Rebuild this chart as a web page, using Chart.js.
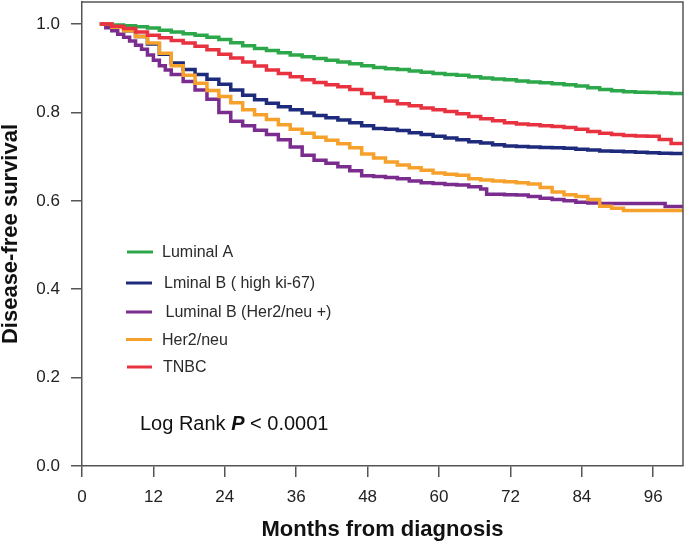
<!DOCTYPE html>
<html>
<head>
<meta charset="utf-8">
<script src="https://cdn.jsdelivr.net/npm/chart.js@4.4.1/dist/chart.umd.min.js"></script>
<style>
  html, body { margin: 0; padding: 0; background: #ffffff; }
  #c { display: block; }
</style>
</head>
<body>
<canvas id="c" width="685" height="543"></canvas>
<script>
// ---- data ----
const seriesLabels = ["Luminal A", "Lminal B ( high ki-67)", "Luminal B (Her2/neu +)", "Her2/neu", "TNBC"];
const seriesColors = ["#2ca84b", "#1e2b7c", "#7b2d8f", "#f6a12b", "#e8323f"];

const lumAMonths = [3,5,7,9,11,13,15,17,19,21,23,25,27,29,31,33,35,37,39,41,43,45,47,49,51,53,55,57,59,61,63,65,67,69,71,73,75,77,79,81,83,85,87,89,91,93,95,97,99,101];
const lumAValues = [1.0,0.998,0.996,0.994,0.991,0.986,0.982,0.978,0.975,0.970,0.965,0.958,0.951,0.945,0.940,0.935,0.930,0.926,0.922,0.918,0.914,0.910,0.906,0.902,0.899,0.897,0.894,0.891,0.888,0.886,0.884,0.881,0.878,0.876,0.874,0.871,0.869,0.867,0.865,0.863,0.860,0.856,0.852,0.849,0.847,0.846,0.845,0.844,0.843,0.843];

const lumBkiMonths = [3,5,7,9,11,13,15,17,19,21,23,25,27,29,31,33,35,37,39,41,43,45,47,49,51,53,55,57,59,61,63,65,67,69,71,73,75,77,79,81,83,85,87,89,91,93,95,97,99,101];
const lumBkiValues = [1.0,0.994,0.985,0.972,0.955,0.932,0.912,0.897,0.886,0.875,0.864,0.851,0.839,0.829,0.821,0.813,0.806,0.799,0.793,0.788,0.783,0.777,0.770,0.764,0.762,0.759,0.754,0.750,0.746,0.742,0.738,0.734,0.731,0.727,0.724,0.723,0.722,0.721,0.720,0.719,0.717,0.715,0.713,0.712,0.711,0.710,0.709,0.708,0.707,0.706];

const lumBherMonths = [3,4,5,6,7,8,9,10,11,12,13,14,15,17,19,21,23,25,27,29,31,33,35,37,39,41,43,45,47,49,51,53,55,57,59,61,63,65,67,68,71,73,75,77,79,81,83,85,87,97,98,101];
const lumBherValues = [1.0,0.992,0.985,0.977,0.970,0.962,0.952,0.943,0.930,0.918,0.906,0.896,0.886,0.870,0.851,0.830,0.800,0.780,0.770,0.760,0.750,0.738,0.722,0.703,0.692,0.685,0.677,0.668,0.657,0.655,0.653,0.650,0.645,0.641,0.639,0.637,0.636,0.632,0.627,0.615,0.614,0.613,0.610,0.606,0.603,0.600,0.597,0.595,0.594,0.594,0.587,0.587];

const her2Months = [3,5,7,9,11,13,15,17,19,21,23,25,27,29,31,33,35,37,39,41,43,45,47,49,51,53,55,57,59,61,63,65,67,69,71,73,75,77,79,81,83,85,87,89,91,101];
const her2Values = [1.0,0.993,0.985,0.972,0.957,0.934,0.906,0.884,0.866,0.850,0.836,0.822,0.806,0.795,0.784,0.772,0.762,0.753,0.744,0.737,0.729,0.720,0.706,0.697,0.688,0.681,0.675,0.669,0.663,0.660,0.658,0.650,0.647,0.645,0.643,0.641,0.638,0.630,0.620,0.614,0.610,0.603,0.588,0.583,0.578,0.578];

const tnbcMonths = [3,5,7,9,11,13,15,17,19,21,23,25,27,29,31,33,35,37,39,41,43,45,47,49,51,53,55,57,59,61,63,65,67,69,71,73,75,77,79,81,83,85,87,89,91,93,95,97,99,101];
const tnbcValues = [1.0,0.995,0.990,0.982,0.975,0.969,0.963,0.957,0.950,0.942,0.932,0.923,0.914,0.905,0.896,0.888,0.881,0.874,0.868,0.863,0.858,0.852,0.843,0.834,0.826,0.820,0.815,0.810,0.806,0.802,0.797,0.791,0.786,0.781,0.777,0.774,0.772,0.770,0.768,0.766,0.762,0.757,0.753,0.750,0.748,0.747,0.746,0.739,0.730,0.726];

const xTickValues = [0, 12, 24, 36, 48, 60, 72, 84, 96];
const yTickValues = [0.0, 0.2, 0.4, 0.6, 0.8, 1.0];

const xTitle = "Months from diagnosis";
const yTitle = "Disease-free survival";

// ---- build ----
const FONT = "'Liberation Sans', Arial, Helvetica, sans-serif";
const allMonths = [lumAMonths, lumBkiMonths, lumBherMonths, her2Months, tnbcMonths];
const allValues = [lumAValues, lumBkiValues, lumBherValues, her2Values, tnbcValues];
const drawOrder = [5, 4, 3, 2, 1];

const datasets = seriesLabels.map((lab, i) => ({
  label: lab,
  data: allMonths[i].map((m, j) => ({ x: m, y: allValues[i][j] })),
  borderColor: seriesColors[i],
  backgroundColor: seriesColors[i],
  borderWidth: 3.5,
  stepped: true,
  pointRadius: 0,
  fill: false,
  order: drawOrder[i]
}));

const framePlugin = {
  id: 'frame',
  afterDraw(chart) {
    const { ctx, chartArea: a } = chart;
    ctx.save();
    ctx.strokeStyle = '#555';
    ctx.lineWidth = 1.5;
    ctx.beginPath();
    ctx.moveTo(a.left, a.top);
    ctx.lineTo(a.right, a.top);
    ctx.lineTo(a.right, a.bottom);
    ctx.stroke();
    ctx.restore();
  }
};

const legendPlugin = {
  id: 'insideLegend',
  afterDraw(chart) {
    const ctx = chart.ctx;
    const rowY = [252, 283, 312, 339.5, 367];
    const lineX = [[127, 153], [126, 152], [126, 152], [126, 152], [127, 152]];
    const textX = [162, 164, 165.5, 162, 163];
    ctx.save();
    ctx.font = "16px " + FONT;
    ctx.textBaseline = 'middle';
    ctx.textAlign = 'left';
    chart.data.datasets.forEach((ds, i) => {
      ctx.strokeStyle = ds.borderColor;
      ctx.lineWidth = 3;
      ctx.beginPath();
      ctx.moveTo(lineX[i][0], rowY[i]);
      ctx.lineTo(lineX[i][1], rowY[i]);
      ctx.stroke();
      ctx.fillStyle = '#2a2a2a';
      ctx.fillText(ds.label, textX[i], rowY[i] + 1);
    });
    // Log rank annotation
    let x = 140;
    const y = 424;
    ctx.fillStyle = '#111';
    ctx.font = "20px " + FONT;
    const p1 = "Log Rank ";
    ctx.fillText(p1, x, y);
    x += ctx.measureText(p1).width;
    ctx.font = "italic bold 20px " + FONT;
    ctx.fillText("P", x, y);
    x += ctx.measureText("P").width;
    ctx.font = "20px " + FONT;
    ctx.fillText(" < 0.0001", x, y);
    ctx.restore();
  }
};

new Chart(document.getElementById('c'), {
  type: 'line',
  data: { datasets },
  options: {
    responsive: false,
    animation: false,
    layout: { padding: { top: 2, right: 2, left: 0, bottom: 0 } },
    plugins: { legend: { display: false }, tooltip: { enabled: false } },
    scales: {
      x: {
        type: 'linear',
        min: 0,
        max: 101,
        afterBuildTicks: s => { s.ticks = xTickValues.map(v => ({ value: v })); },
        afterFit: s => { s.height = 77; s.paddingLeft = 0; s.paddingRight = 0; s.paddingTop = 0; s.paddingBottom = 0; },
        grid: { drawOnChartArea: false, drawTicks: true, tickLength: 11, color: '#555', lineWidth: 1.5 },
        border: { color: '#555', width: 1.5 },
        ticks: { font: { family: FONT, size: 17 }, color: '#222', padding: 10, maxRotation: 0, autoSkip: false },
        title: { display: true, text: xTitle, color: '#111', font: { family: FONT, size: 22, weight: 'bold' }, padding: 0 }
      },
      y: {
        type: 'linear',
        min: 0,
        max: 1.05,
        afterBuildTicks: s => { s.ticks = yTickValues.map(v => ({ value: v })); },
        afterFit: s => { s.width = 82; s.paddingTop = 0; s.paddingBottom = 0; s.paddingLeft = 0; s.paddingRight = 0; },
        grid: { drawOnChartArea: false, drawTicks: true, tickLength: 11, color: '#555', lineWidth: 1.5 },
        border: { color: '#555', width: 1.5 },
        ticks: { font: { family: FONT, size: 17 }, color: '#222', padding: 11, callback: v => Number(v).toFixed(1) },
        title: { display: true, text: yTitle, color: '#111', font: { family: FONT, size: 22, weight: 'bold', lineHeight: 1.0 }, padding: 0 }
      }
    }
  },
  plugins: [framePlugin, legendPlugin]
});
</script>
</body>
</html>
